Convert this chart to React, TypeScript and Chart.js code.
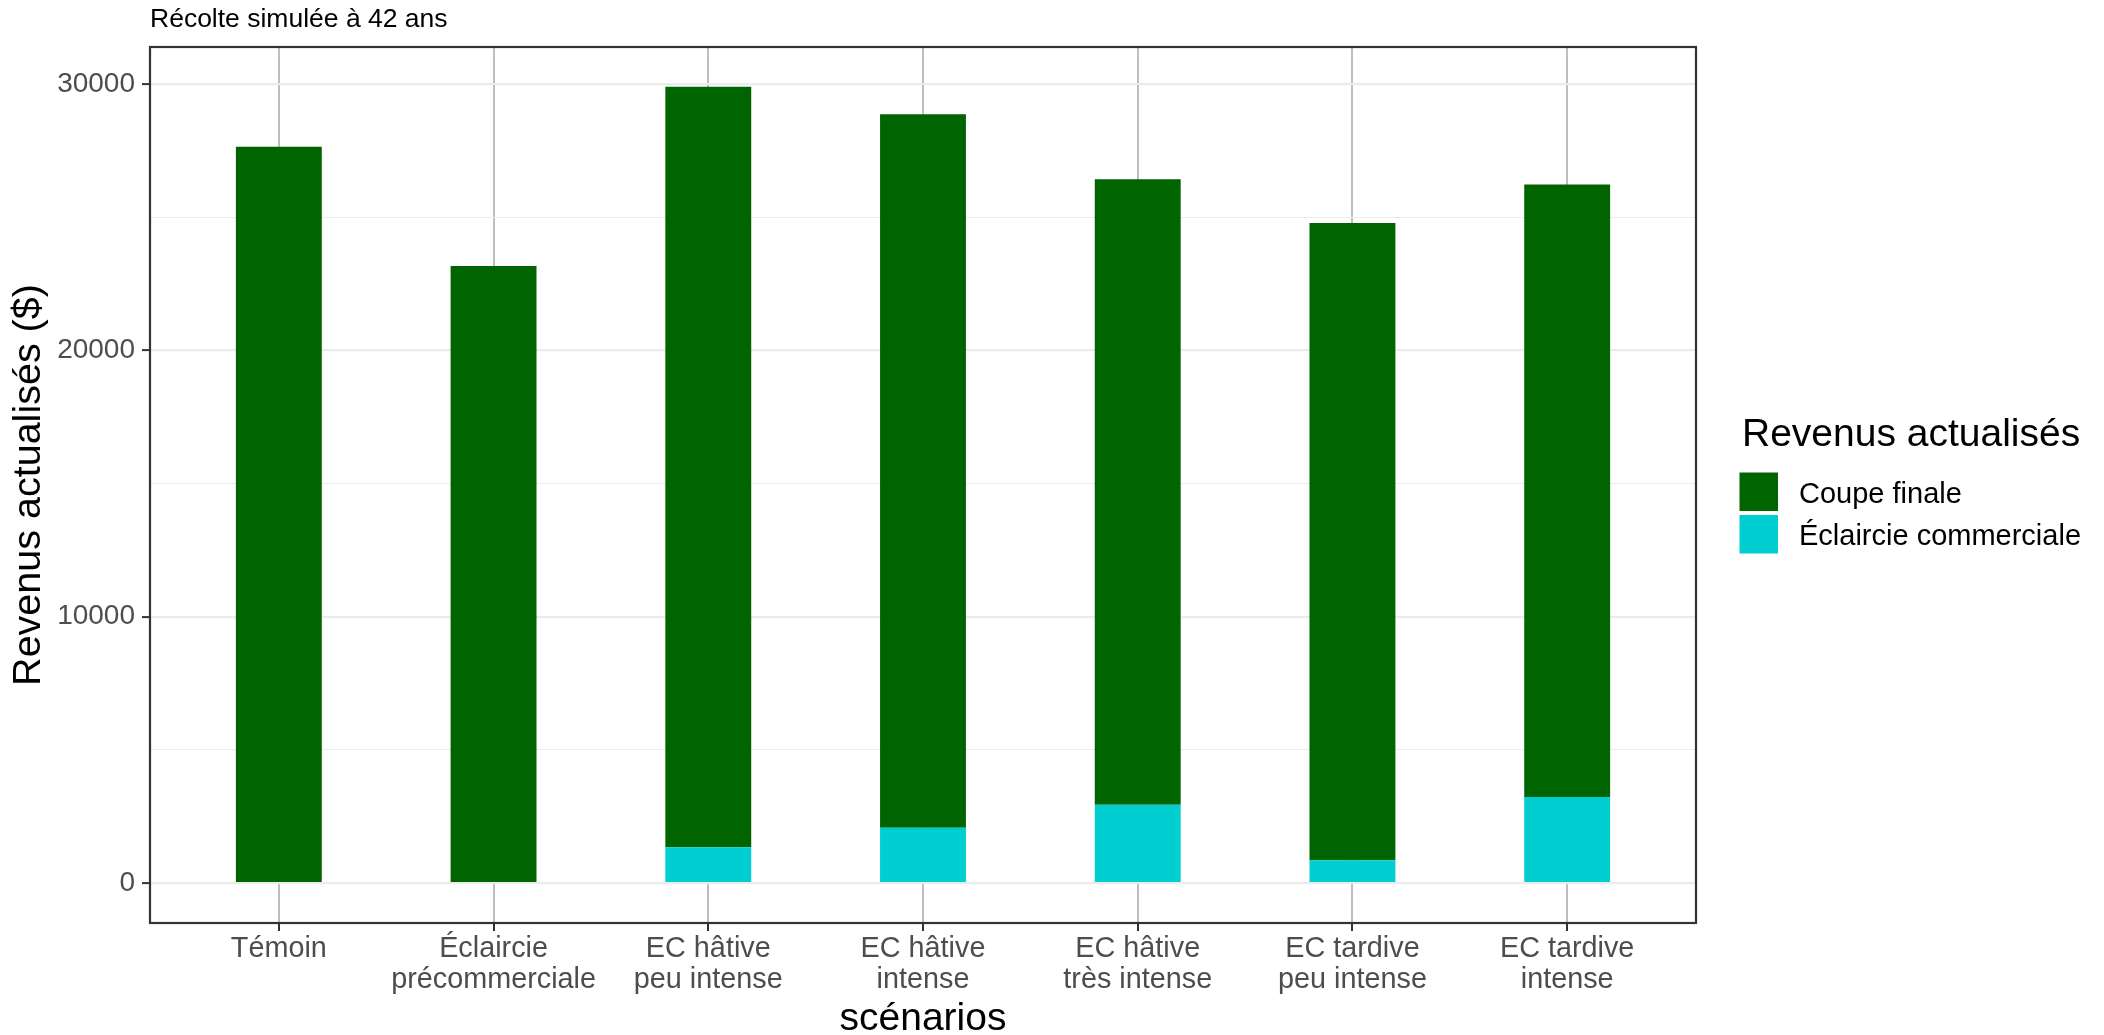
import React, { useEffect, useRef } from "react";
import { Chart, registerables } from "chart.js";

Chart.register(...registerables);

const FONT = '"Liberation Sans", Arial, Helvetica, sans-serif';

// ---- Data ----
const categories: string[][] = [
  ["Témoin"],
  ["Éclaircie", "précommerciale"],
  ["EC hâtive", "peu intense"],
  ["EC hâtive", "intense"],
  ["EC hâtive", "très intense"],
  ["EC tardive", "peu intense"],
  ["EC tardive", "intense"],
];
const coupeFinale = [27642, 23163, 28540, 26770, 23476, 23912, 22987];
const eclaircieCommerciale = [0, 0, 1348, 2084, 2945, 861, 3232];
const majorTicks = [0, 10000, 20000, 30000];
const minorTicks = [5000, 15000, 25000];

const seriesLabels = ["Coupe finale", "Éclaircie commerciale"];
const seriesColors = ["#006400", "#00CED1"];
const chartTitle = "Récolte simulée à 42 ans";
const xTitle = "scénarios";
const yTitle = "Revenus actualisés ($)";
const legendTitle = "Revenus actualisés";

const totals = coupeFinale.map((v, i) => v + eclaircieCommerciale[i]);
const maxTotal = Math.max(...totals);

const legendPlugin = {
  id: "ggLegend",
  afterDraw(chart: any) {
    const { ctx, chartArea } = chart;
    const x0 = chartArea.right + 43.5;
    ctx.save();
    ctx.textAlign = "left";
    ctx.textBaseline = "middle";
    ctx.fillStyle = "#000000";
    ctx.font = `39px ${FONT}`;
    ctx.fillText(legendTitle, x0 + 2.5, 435.5);
    const items = [...chart.data.datasets].reverse();
    items.forEach((ds: any, i: number) => {
      const y = 472.5 + i * 42.5;
      ctx.fillStyle = ds.backgroundColor;
      ctx.fillRect(x0, y, 38.5, 38.5);
      ctx.fillStyle = "#000000";
      ctx.font = `29px ${FONT}`;
      ctx.fillText(ds.label, x0 + 59.5, y + 22);
    });
    ctx.restore();
  },
};

const borderPlugin = {
  id: "panelBorder",
  afterDatasetsDraw(chart: any) {
    const { ctx, chartArea } = chart;
    ctx.save();
    ctx.strokeStyle = "#333333";
    ctx.lineWidth = 2.2;
    ctx.strokeRect(
      chartArea.left,
      chartArea.top,
      chartArea.right - chartArea.left,
      chartArea.bottom - chartArea.top
    );
    ctx.restore();
  },
};

export default function App() {
  const ref = useRef<HTMLCanvasElement | null>(null);

  useEffect(() => {
    if (!ref.current) return;
    Chart.defaults.font.family = FONT;
    const chart = new Chart(ref.current, {
      type: "bar",
      data: {
        datasets: [
          {
            label: seriesLabels[1],
            data: eclaircieCommerciale.map((v, i) => ({ x: i + 1, y: v })),
            backgroundColor: seriesColors[1],
            borderWidth: 0,
            stack: "rev",
            barPercentage: 0.4,
            categoryPercentage: 1,
          },
          {
            label: seriesLabels[0],
            data: coupeFinale.map((v, i) => ({ x: i + 1, y: v })),
            backgroundColor: seriesColors[0],
            borderWidth: 0,
            stack: "rev",
            barPercentage: 0.4,
            categoryPercentage: 1,
          },
        ] as any,
      },
      options: {
        responsive: false,
        animation: false,
        devicePixelRatio: 1,
        layout: { padding: { left: 0, right: 408, top: 0, bottom: 0 } },
        plugins: {
          legend: { display: false },
          tooltip: { enabled: false },
          title: {
            display: true,
            text: chartTitle,
            align: "start",
            fullSize: false,
            color: "#000000",
            font: { size: 26.5, weight: "normal", family: FONT, lineHeight: 1.2 },
            padding: { top: 4, bottom: 11.2 },
          },
        },
        scales: {
          x: {
            type: "linear",
            min: 0.4,
            max: 7.6,
            offset: false,
            afterBuildTicks: (axis: any) => {
              axis.ticks = categories.map((_, i) => ({ value: i + 1 }));
            },
            afterFit: (axis: any) => {
              axis.height = 112;
            },
            ticks: {
              autoSkip: false,
              maxRotation: 0,
              minRotation: 0,
              padding: 2,
              color: "#4d4d4d",
              font: { size: 28.8, family: FONT, lineHeight: 1.1 },
              callback: (value: any) => categories[Math.round(value) - 1] || "",
            },
            grid: {
              offset: false,
              color: "#bebebe",
              lineWidth: 2,
              tickColor: "#333333",
              tickLength: 8,
              tickWidth: 2,
              drawTicks: true,
            },
            border: { display: false },
            title: {
              display: true,
              text: xTitle,
              color: "#000000",
              font: { size: 39, family: FONT, lineHeight: 1 },
              padding: { top: 0, bottom: -3.5 },
            },
          },
          y: {
            stacked: true,
            min: -0.05 * maxTotal,
            max: 1.05 * maxTotal,
            afterBuildTicks: (axis: any) => {
              axis.ticks = [...majorTicks, ...minorTicks]
                .sort((a, b) => a - b)
                .map((v) => ({ value: v }));
            },
            afterFit: (axis: any) => {
              axis.width = 150;
            },
            ticks: {
              padding: 7,
              color: "#4d4d4d",
              font: { size: 28, family: FONT },
              callback: (value: any) =>
                majorTicks.includes(value) ? String(value) : "",
            },
            grid: {
              color: "#ebebeb",
              lineWidth: (c: any) =>
                c.tick && majorTicks.includes(c.tick.value) ? 2.2 : 1.1,
              tickColor: (c: any) =>
                c.tick && majorTicks.includes(c.tick.value)
                  ? "#333333"
                  : "rgba(0,0,0,0)",
              tickLength: 8,
              tickWidth: 2,
            },
            border: { display: false },
            title: {
              display: true,
              text: yTitle,
              color: "#000000",
              font: { size: 39.5, family: FONT, lineHeight: 1 },
              padding: { top: 9, bottom: 0 },
            },
          },
        },
      } as any,
      plugins: [borderPlugin, legendPlugin],
    });
    return () => chart.destroy();
  }, []);

  return (
    <div
      style={{
        position: "fixed",
        left: 0,
        top: 0,
        width: 2104,
        height: 1035,
        background: "#ffffff",
      }}
    >
      <canvas
        ref={ref}
        width={2104}
        height={1035}
        style={{ display: "block", width: 2104, height: 1035 }}
      />
    </div>
  );
}
